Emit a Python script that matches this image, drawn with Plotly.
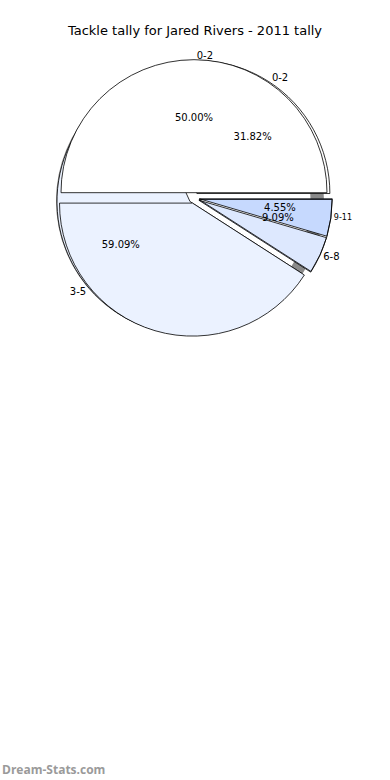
import plotly.graph_objects as go

# ---- data ----
title_text = "Tackle tally for Jared Rivers - 2011 tally"
labels_b = ["0-2", "3-5", "6-8", "9-11"]
values_b = [7, 13, 1, 1]          # 31.82%, 59.09%, 4.55%, 4.55%
labels_a = ["0-2", "3-5", "6-8"]
values_a = [11, 9, 2]             # 50.00%, 40.91%, 9.09%
watermark = "Dream-Stats.com"

# ---- styling / geometry ----
W, H = 390, 780
CX, CY, R = 194, 198, 133
PULL = 0.04
col_b = ["#ffffff", "#ebf2ff", "#dde8fe", "#c6d9fe"]
col_a = ["#ffffff", "#ebf2ff", "rgba(0,0,0,0)"]
TRANSP = "rgba(0,0,0,0)"
FONT = "DejaVu Sans"


def dom(cx, cy, half):
    return dict(x=[(cx - half) / W, (cx + half) / W],
                y=[1 - (cy + half) / H, 1 - (cy - half) / H])


def start_east(vals):
    # plotly puts the first counterclockwise slice clockwise of `rotation`;
    # shift so the first slice starts at 3 o'clock and runs counterclockwise
    return 90 - 360.0 * vals[0] / sum(vals)


common = dict(sort=False, direction="counterclockwise",
              hoverinfo="skip", showlegend=False)
tf = dict(family=FONT, size=10, color="black")

fig = go.Figure()

# shadow
fig.add_trace(go.Pie(values=[1], labels=["s"], domain=dom(CX - 4, CY + 3, R + 1),
                     hole=0.9,
                     marker=dict(colors=["#8a8a8a"], line=dict(width=0)),
                     textinfo="none", rotation=0, **common))

# pie B (underneath)
fig.add_trace(go.Pie(values=values_b, labels=labels_b, domain=dom(CX, CY, R * (1 + PULL)),
                     pull=[PULL] * len(values_b), rotation=start_east(values_b),
                     marker=dict(colors=col_b, line=dict(color="black", width=0.8)),
                     textinfo="none", **common))

# pie A (on top)
fig.add_trace(go.Pie(values=values_a, labels=labels_a, domain=dom(CX, CY, R * (1 + PULL)),
                     pull=[PULL] * len(values_a), rotation=start_east(values_a),
                     marker=dict(colors=col_a, line=dict(color="black", width=0.8)),
                     textinfo="none", **common))

# percentage texts
RIN = 68
fig.add_trace(go.Pie(values=values_a, labels=labels_a, domain=dom(CX, CY, 162),
                     rotation=start_east(values_a),
                     marker=dict(colors=[TRANSP] * 3, line=dict(width=0)),
                     texttemplate=["%{percent:.2%}", "", ""],
                     textposition="inside", insidetextorientation="horizontal",
                     textfont=tf, **common))
fig.add_trace(go.Pie(values=values_a, labels=labels_a, domain=dom(CX, CY, RIN),
                     rotation=start_east(values_a),
                     marker=dict(colors=[TRANSP] * 3, line=dict(width=0)),
                     texttemplate=["", "", "%{percent:.2%}"],
                     textposition="outside", textfont=tf, **common))
fig.add_trace(go.Pie(values=values_b, labels=labels_b, domain=dom(CX, CY, RIN),
                     rotation=start_east(values_b),
                     marker=dict(colors=[TRANSP] * 4, line=dict(width=0)),
                     texttemplate=["%{percent:.2%}", "%{percent:.2%}", "", "%{percent:.2%}"],
                     textposition="outside", textfont=tf, **common))

# outer category labels
fig.add_trace(go.Pie(values=values_a, labels=labels_a, domain=dom(CX, CY, R + 4),
                     rotation=start_east(values_a),
                     marker=dict(colors=[TRANSP] * 3, line=dict(width=0)),
                     texttemplate=["%{label}", "", ""],
                     textposition="outside", textfont=tf, **common))
fig.add_trace(go.Pie(values=values_b, labels=labels_b, domain=dom(CX, CY, R + 6),
                     rotation=start_east(values_b),
                     marker=dict(colors=[TRANSP] * 4, line=dict(width=0)),
                     texttemplate="%{label}",
                     textposition="outside",
                     textfont=dict(family=FONT, size=[10, 10, 10, 8], color="black"),
                     **common))

fig.update_layout(
    width=W, height=H,
    margin=dict(l=0, r=0, t=0, b=0),
    paper_bgcolor="white", plot_bgcolor="white",
    title=dict(text=title_text, x=0.5, xanchor="center", y=1 - 30 / H, yanchor="middle",
               font=dict(family=FONT, size=13, color="black")),
    annotations=[dict(text=watermark, xref="paper", yref="paper", x=0, y=0,
                      xanchor="left", yanchor="bottom", showarrow=False,
                      font=dict(family="Open Sans", size=12, color="#9a9a9a", weight="bold"))],
)

fig.write_html("out.html")
